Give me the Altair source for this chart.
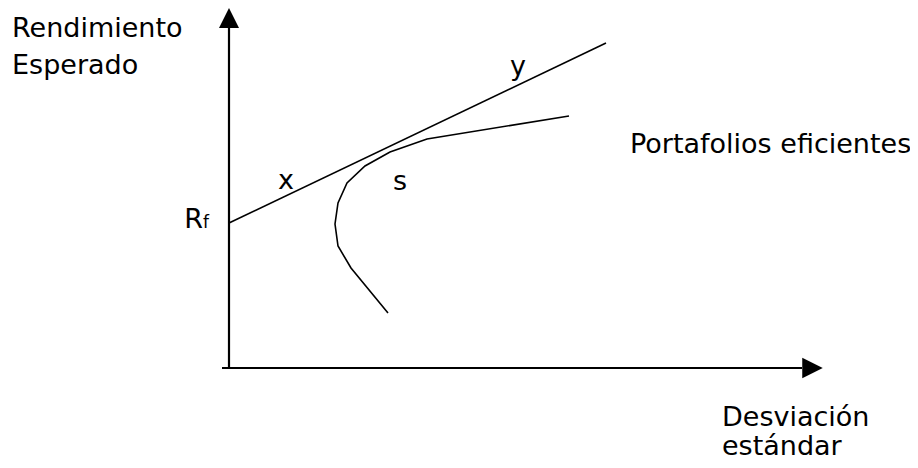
import altair as alt
import pandas as pd

# --- data (units: sigma, expected return) ---
tangent_x = [0.0, 37.7]
tangent_y = [14.5, 32.5]

frontier_x = [34.0, 19.8, 16.1, 13.6, 11.8, 10.9, 10.6, 10.9, 12.2, 15.9]
frontier_y = [25.2, 22.9, 21.6, 20.2, 18.5, 16.5, 14.4, 12.2, 10.0, 5.5]

vaxis_x = [0.0, 0.0]
vaxis_y = [-0.1, 34.0]
haxis_x = [-0.7, 57.3]
haxis_y = [0.0, 0.0]

arrow_up = {"x": 0.0, "y": 35.0}
arrow_right = {"x": 58.35, "y": 0.0}

left_labels = ["Rendimiento", "Esperado", "Portafolios eficientes", "Desviación", "estándar"]
left_x = [-21.7, -21.7, 40.1, 49.3, 49.3]
left_y = [33.1, 29.4, 21.5, -5.8, -8.7]

center_labels = ["y", "x", "s"]
center_x = [28.9, 5.7, 17.1]
center_y = [29.3, 17.9, 17.8]

rf_main = "R"
rf_sub = "f"
rf_x = -2.6
rf_y = 14.0

XD = [-22.1, 68.1]
YD = [-9.2, 36.0]
FONT = "DejaVu Sans"

xs = alt.Scale(domain=XD, nice=False, zero=False)
ys = alt.Scale(domain=YD, nice=False, zero=False)


def X(f="x"):
    return alt.X(f"{f}:Q", scale=xs, axis=None)


def Y(f="y"):
    return alt.Y(f"{f}:Q", scale=ys, axis=None)


tangent_df = pd.DataFrame({"x": tangent_x, "y": tangent_y})
frontier_df = pd.DataFrame({"x": frontier_x, "y": frontier_y, "o": list(range(len(frontier_x)))})
vaxis_df = pd.DataFrame({"x": vaxis_x, "y": vaxis_y})
haxis_df = pd.DataFrame({"x": haxis_x, "y": haxis_y})
up_df = pd.DataFrame([arrow_up])
right_df = pd.DataFrame([arrow_right])
left_df = pd.DataFrame({"x": left_x, "y": left_y, "t": left_labels})
center_df = pd.DataFrame({"x": center_x, "y": center_y, "t": center_labels})
rmain_df = pd.DataFrame({"x": [rf_x], "y": [rf_y], "t": [rf_main]})
rsub_df = pd.DataFrame({"x": [rf_x], "y": [rf_y], "t": [rf_sub]})

tangent = alt.Chart(tangent_df).mark_line(color="black", strokeWidth=1.6, clip=False).encode(x=X(), y=Y())
frontier = alt.Chart(frontier_df).mark_line(color="black", strokeWidth=1.6, clip=False).encode(
    x=X(), y=Y(), order="o:Q")
vaxis = alt.Chart(vaxis_df).mark_line(color="black", strokeWidth=2.2, strokeCap="butt").encode(x=X(), y=Y())
haxis = alt.Chart(haxis_df).mark_line(color="black", strokeWidth=2.2, strokeCap="butt").encode(x=X(), y=Y())
up = alt.Chart(up_df).mark_point(shape="M0,-1L1,1L-1,1Z", size=400, filled=True, color="black", opacity=1).encode(x=X(), y=Y())
right = alt.Chart(right_df).mark_point(shape="M-1,-1L1,0L-1,1Z", size=420, filled=True, color="black", opacity=1).encode(x=X(), y=Y())

left_txt = alt.Chart(left_df).mark_text(align="left", baseline="alphabetic", font=FONT, fontSize=27, color="black").encode(
    x=X(), y=Y(), text="t:N")
center_txt = alt.Chart(center_df).mark_text(align="center", baseline="alphabetic", font=FONT, fontSize=27, color="black").encode(
    x=X(), y=Y(), text="t:N")
rmain_txt = alt.Chart(rmain_df).mark_text(align="right", baseline="alphabetic", font=FONT, fontSize=27, color="black").encode(
    x=X(), y=Y(), text="t:N")
rsub_txt = alt.Chart(rsub_df).mark_text(align="left", baseline="alphabetic", font=FONT, fontSize=17, color="black").encode(
    x=X(), y=Y(), text="t:N")

chart = alt.layer(
    vaxis, haxis, up, right, tangent, frontier, left_txt, center_txt, rmain_txt, rsub_txt
).properties(
    width=902, height=452, padding=0,
    autosize=alt.AutoSizeParams(type="none"),
    background="white",
).configure_view(stroke=None)

chart.save("out.html", embed_options={"renderer": "svg", "actions": False})
